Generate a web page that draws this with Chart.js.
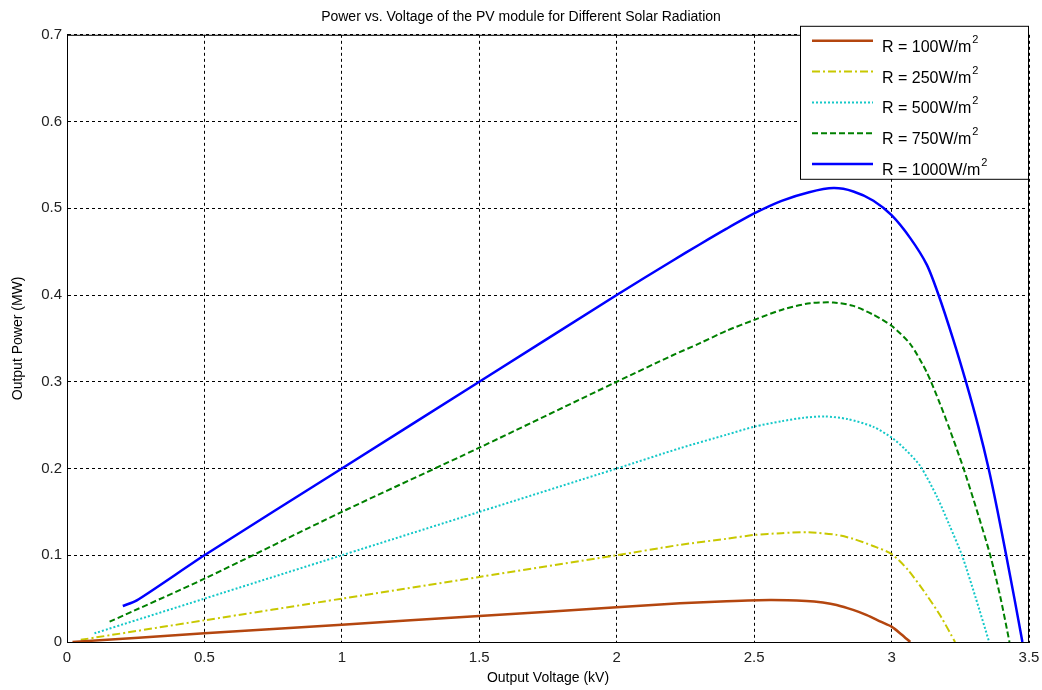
<!DOCTYPE html>
<html>
<head>
<meta charset="utf-8">
<script src="https://cdn.jsdelivr.net/npm/chart.js@4"></script>
<style>
  html, body { margin: 0; padding: 0; background: #fff; }
</style>
</head>
<body>
<canvas id="chart" width="1042" height="690"></canvas>
<script>
// tick labels
const xTickLabels = ["0", "0.5", "1", "1.5", "2", "2.5", "3", "3.5"];
const yTickLabels = ["0", "0.1", "0.2", "0.3", "0.4", "0.5", "0.6", "0.7"];

// legend text (the "2" is drawn as a superscript)
const legendText = ["R = 100W/m", "R = 250W/m", "R = 500W/m", "R = 750W/m", "R = 1000W/m"];

// voltage (kV) / power (MW)
const v100 = [0.02, 0.5, 1.0, 1.5, 2.0, 2.23, 2.4, 2.558, 2.69, 2.75, 2.8, 2.86, 2.91, 2.96, 3.0, 3.035, 3.068];
const p100 = [0, 0.01, 0.02, 0.03, 0.04, 0.0446, 0.047, 0.0484, 0.0473, 0.0455, 0.0427, 0.037, 0.031, 0.0235, 0.0177, 0.009, 0];

const v250 = [0.05, 0.5, 1.0, 1.5, 2.0, 2.23, 2.4, 2.5, 2.6, 2.698, 2.8, 2.86, 2.93, 3.0, 3.06, 3.128, 3.18, 3.231];
const p250 = [0.0025, 0.025, 0.05, 0.075, 0.1, 0.112, 0.119, 0.1234, 0.1255, 0.1265, 0.1235, 0.119, 0.111, 0.1015, 0.083, 0.054, 0.029, 0];

const v500 = [0.1, 0.5, 1.0, 1.5, 2.0, 2.23, 2.4, 2.501, 2.6, 2.68, 2.758, 2.84, 2.934, 3.003, 3.05, 3.104, 3.165, 3.21, 3.256, 3.305, 3.355];
const p500 = [0.01, 0.05, 0.1, 0.15, 0.2, 0.2234, 0.239, 0.2483, 0.2545, 0.2585, 0.26, 0.257, 0.248, 0.235, 0.222, 0.203, 0.1676, 0.135, 0.1, 0.052, 0];

const v750 = [0.155, 0.5, 1.0, 1.5, 2.0, 2.2, 2.303, 2.401, 2.501, 2.607, 2.704, 2.789, 2.861, 2.934, 3.0, 3.068, 3.128, 3.177, 3.207, 3.262, 3.31, 3.359, 3.395, 3.429];
const p750 = [0.0234, 0.073, 0.15, 0.224, 0.3, 0.33, 0.3445, 0.359, 0.3714, 0.3837, 0.3906, 0.3914, 0.3875, 0.3772, 0.3645, 0.3435, 0.311, 0.274, 0.249, 0.2, 0.152, 0.1, 0.053, 0];

const v1000 = [0.203, 0.254, 0.5, 1.0, 1.5, 2.0, 2.2, 2.3, 2.4, 2.5, 2.6, 2.7, 2.789, 2.861, 2.934, 3.0, 3.068, 3.128, 3.171, 3.225, 3.271, 3.316, 3.353, 3.385, 3.417, 3.447, 3.476];
const p1000 = [0.0415, 0.048, 0.1, 0.2, 0.3, 0.4, 0.439, 0.458, 0.4765, 0.494, 0.5085, 0.5185, 0.5233, 0.5194, 0.5087, 0.492, 0.4656, 0.435, 0.4, 0.348, 0.2995, 0.248, 0.2, 0.152, 0.1, 0.05, 0];

const FONT = '"Liberation Sans", Arial, sans-serif';

function pts(xs, ys) {
  return xs.map((x, i) => ({ x: x, y: ys[i] }));
}

function series(label, xs, ys, color, width, dash) {
  return {
    label: label,
    data: pts(xs, ys),
    borderColor: color,
    borderWidth: width,
    borderDash: dash,
    pointRadius: 0,
    fill: false,
    tension: 0.25,
  };
}

// frame round the plot + the legend box inside it
const framePlugin = {
  id: "frame",
  afterDatasetsDraw(chart) {
    const ctx = chart.ctx;
    const a = chart.chartArea;
    ctx.save();
    ctx.setLineDash([]);
    ctx.strokeStyle = "#000";
    ctx.lineWidth = 1;
    ctx.strokeRect(a.left + 0.5, a.top + 0.5, a.right - a.left - 1, a.bottom - a.top);

    const bx = a.right - 229, by = a.top - 9, bw = 228, bh = 153;
    ctx.fillStyle = "#fff";
    ctx.fillRect(bx, by, bw, bh);
    ctx.strokeRect(bx + 0.5, by + 0.5, bw, bh);

    chart.data.datasets.forEach((ds, i) => {
      const y = by + 15 + i * 30.8;
      ctx.setLineDash(ds.borderDash || []);
      ctx.strokeStyle = ds.borderColor;
      ctx.lineWidth = ds.borderWidth;
      ctx.beginPath();
      ctx.moveTo(bx + 12, y);
      ctx.lineTo(bx + 73, y);
      ctx.stroke();
      ctx.setLineDash([]);
      ctx.fillStyle = "#000";
      ctx.textBaseline = "alphabetic";
      ctx.font = "16px " + FONT;
      ctx.fillText(legendText[i], bx + 82, y + 11);
      const w = ctx.measureText(legendText[i]).width;
      ctx.font = "11px " + FONT;
      ctx.fillText("2", bx + 83 + w, y + 2);
    });
    ctx.restore();
  },
};

const ctx = document.getElementById("chart").getContext("2d");
new Chart(ctx, {
  type: "line",
  data: {
    datasets: [
      series("R = 100W/m²", v100, p100, "rgb(180,70,15)", 2.5, []),
      series("R = 250W/m²", v250, p250, "rgb(200,200,0)", 2, [8, 3, 2, 3]),
      series("R = 500W/m²", v500, p500, "rgb(20,200,200)", 2, [2, 2]),
      series("R = 750W/m²", v750, p750, "rgb(0,128,0)", 2, [6, 3]),
      series("R = 1000W/m²", v1000, p1000, "rgb(0,0,255)", 2.5, []),
    ],
  },
  options: {
    responsive: false,
    animation: false,
    layout: { padding: 0 },
    plugins: {
      legend: { display: false },
      tooltip: { enabled: false },
      title: {
        display: true,
        text: "Power vs. Voltage of the PV module for Different Solar Radiation",
        color: "#000",
        font: { family: FONT, size: 14, weight: "normal" },
        padding: { top: 9, bottom: 9 },
      },
    },
    scales: {
      x: {
        type: "linear",
        min: 0,
        max: 3.5,
        afterFit(scale) {
          scale.height = 48;
          scale.paddingLeft = 0;
          scale.paddingRight = 13;
        },
        grid: { color: "#000", lineWidth: 1, drawTicks: false },
        border: { color: "#000", width: 1, dash: [3, 3] },
        ticks: {
          stepSize: 0.5,
          padding: 7,
          color: "#222",
          font: { family: FONT, size: 15 },
          callback: (v, i) => xTickLabels[i],
        },
        title: {
          display: true,
          text: "Output Voltage (kV)",
          color: "#000",
          font: { family: FONT, size: 14 },
          padding: { top: 0, bottom: 3 },
        },
      },
      y: {
        type: "linear",
        min: 0,
        max: 0.7,
        afterFit(scale) { scale.width = 67; },
        grid: { color: "#000", lineWidth: 1, drawTicks: false },
        border: { color: "#000", width: 1, dash: [3, 3] },
        ticks: {
          stepSize: 0.1,
          padding: 5,
          color: "#222",
          font: { family: FONT, size: 15 },
          callback: (v, i) => yTickLabels[i],
        },
        title: {
          display: true,
          text: "Output Power (MW)",
          color: "#000",
          font: { family: FONT, size: 14 },
          padding: { top: 10, bottom: 0 },
        },
      },
    },
  },
  plugins: [framePlugin],
});
</script>
</body>
</html>
